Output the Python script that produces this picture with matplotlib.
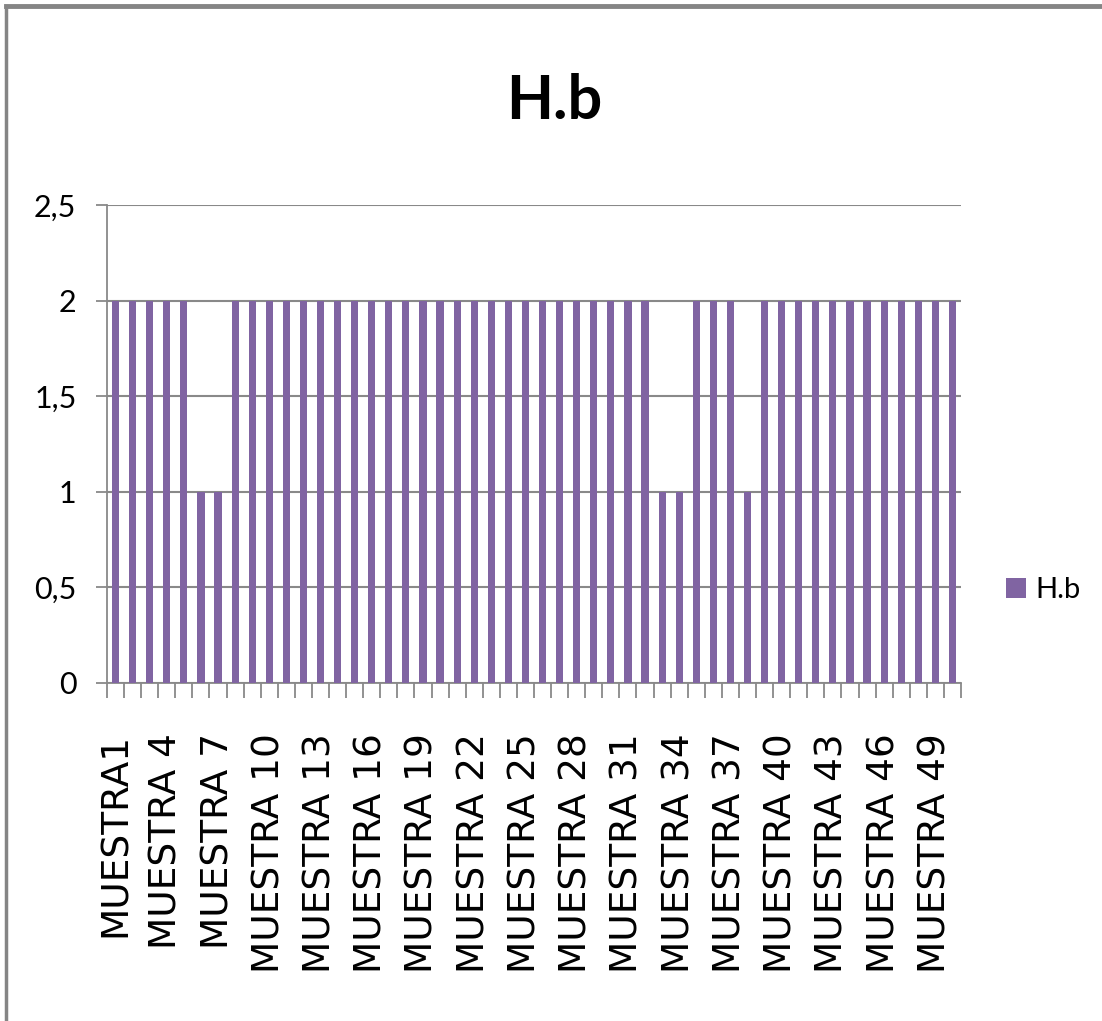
import numpy as np
import matplotlib.pyplot as plt
from matplotlib.lines import Line2D

# datos: H.b por muestra
muestras = ["MUESTRA1"] + ["MUESTRA %d" % i for i in range(2, 51)]
hb = [2, 2, 2, 2, 2, 1, 1, 2, 2, 2,
      2, 2, 2, 2, 2, 2, 2, 2, 2, 2,
      2, 2, 2, 2, 2, 2, 2, 2, 2, 2,
      2, 2, 1, 1, 2, 2, 2, 1, 2, 2,
      2, 2, 2, 2, 2, 2, 2, 2, 2, 2]
yticks = [0, 0.5, 1, 1.5, 2, 2.5]
ytick_labels = ["0", "0,5", "1", "1,5", "2", "2,5"]

color_barra = "#8064A2"
color_gris = "#898989"
estrecha = ["Lato", "DejaVu Sans"]

fig = plt.figure(figsize=(11.02, 10.21), dpi=100)
ax = fig.add_axes([107 / 1102, 1 - 683 / 1021, 854 / 1102, 478 / 1021])

x = np.arange(len(muestras))
ax.bar(x, hb, width=0.42, color=color_barra, label="H.b", zorder=3)

ax.set_xlim(-0.5, len(muestras) - 0.5)
ax.set_ylim(0, 2.5)
ax.set_yticks(yticks)
ax.set_yticklabels(ytick_labels, family=estrecha, fontsize=22)
ax.yaxis.grid(True, color=color_gris, linewidth=1.5, zorder=0)

# etiquetas cada 3 muestras, marcas entre categorias
ax.set_xticks(x[::3])
ax.set_xticklabels(muestras[::3], rotation=90, fontsize=27, family="DejaVu Sans")
ax.set_xticks(np.arange(-0.5, len(muestras)), minor=True)
ax.tick_params(axis="x", which="major", length=0, pad=36)
ax.tick_params(axis="x", which="minor", length=11, width=1.3, color=color_gris)
ax.tick_params(axis="y", length=8, width=1.3, color=color_gris, pad=14)

for s in ["top", "right"]:
    ax.spines[s].set_visible(False)
for s in ["left", "bottom"]:
    ax.spines[s].set_color(color_gris)
    ax.spines[s].set_linewidth(1.3)

fig.text(0.503, 1 - 101 / 1021, "H.b", ha="center", va="center", fontsize=44,
         fontweight="bold", family=estrecha)

fig.legend(loc="center left", bbox_to_anchor=(1000 / 1102, 1 - 590 / 1021),
           frameon=False, prop={"family": estrecha, "size": 21},
           handlelength=0.7, handleheight=0.7, handletextpad=0.3,
           borderpad=0.2, borderaxespad=0)

# marco exterior (izquierda y arriba)
fig.add_artist(Line2D([6 / 1102, 6 / 1102], [0, 1 - 6 / 1021], color="#858585", linewidth=2.5))
fig.add_artist(Line2D([6 / 1102, 1], [1 - 6 / 1021, 1 - 6 / 1021], color="#858585", linewidth=3.5))

plt.savefig("out.png", dpi=100)
